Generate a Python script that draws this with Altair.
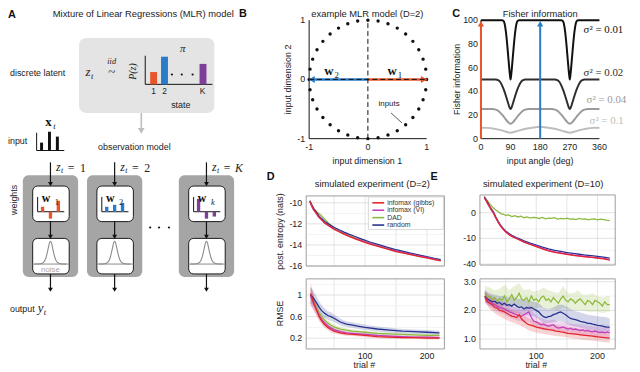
import altair as alt
import pandas as pd

# ============================================================ data
methods = ["infomax (gibbs)", "infomax (VI)", "DAD", "random"]
method_colors = {"infomax (gibbs)": "#e2262b", "infomax (VI)": "#c23fbe",
                 "DAD": "#8dba3e", "random": "#29328f"}
draw_order = ["DAD", "random", "infomax (VI)", "infomax (gibbs)"]

# --- A: schematic bars
latent_states = ["1", "2", "K"]
latent_probs = [0.445, 1.0, 0.74]
input_vals = [0.42, 1.0, 0.74]
w_names = ["1", "2", "k"]
w_vals = {"1": [0.36, -0.5, 0.79], "2": [0.36, 0.5, 0.64], "k": [0.93, -0.5, -0.35]}
noise_dx = [-16, -10, -7, -5, -3.5, -2, -1, 0, 1, 2, 3.5, 5, 7, 10, 16]
noise_pdf = [0, 0.01, 0.07, 0.22, 0.45, 0.75, 0.93, 1.0, 0.93, 0.75, 0.45, 0.22, 0.07, 0.01, 0]

# --- B: stimulus set and weight vectors
input_angles = [0, 10, 20, 30, 40, 50, 60, 70, 80, 90, 100, 110, 120, 130, 140, 150, 160, 170,
                180, 190, 200, 210, 220, 230, 240, 250, 260, 270, 280, 290, 300, 310, 320, 330, 340, 350]
w1_vec = [1, 0]
w2_vec = [-1, 0]
b_ticks = [-1, 0, 1]

# --- C: Fisher information vs input angle
fi_labels = ["σ² = 0.01", "σ² = 0.02", "σ² = 0.04", "σ² = 0.1"]
fi_angles = {
    "σ² = 0.01": [0, 64, 68, 72, 76, 80, 84, 88, 90, 92, 96, 100, 104, 108, 112, 116,
                  244, 248, 252, 256, 260, 264, 268, 270, 272, 276, 280, 284, 288, 292, 296, 360],
    "σ² = 0.02": [0, 45, 52, 58, 64, 70, 76, 82, 86, 90, 94, 98, 104, 110, 116, 122, 128, 135,
                  225, 232, 238, 244, 250, 256, 262, 266, 270, 274, 278, 284, 290, 296, 302, 308, 315, 360],
    "σ² = 0.04": [0, 35, 45, 55, 65, 75, 82, 90, 98, 105, 115, 125, 135, 145,
                  215, 225, 235, 245, 255, 262, 270, 278, 285, 295, 305, 315, 325, 360],
    "σ² = 0.1": [0, 20, 40, 60, 75, 90, 105, 120, 140, 160, 180, 200, 220, 240, 255, 270, 285, 300, 320, 340, 360],
}
fi_values = {
    "σ² = 0.01": [100, 100, 99.5, 97, 90, 79, 66, 54, 50, 54, 66, 79, 90, 97, 99.5, 100,
                  100, 99.5, 97, 90, 79, 66, 54, 50, 54, 66, 79, 90, 97, 99.5, 100, 100],
    "σ² = 0.02": [50, 50, 49.5, 48, 45, 41, 36, 30.5, 27, 25, 27, 30.5, 36, 41, 45, 48, 49.5, 50,
                  50, 49.5, 48, 45, 41, 36, 30.5, 27, 25, 27, 30.5, 36, 41, 45, 48, 49.5, 50, 50],
    "σ² = 0.04": [25, 25, 24.5, 23, 20, 16.5, 14, 12.5, 14, 16.5, 20, 23, 24.5, 25,
                  25, 24.5, 23, 20, 16.5, 14, 12.5, 14, 16.5, 20, 23, 24.5, 25, 25],
    "σ² = 0.1": [9.3, 9.1, 8.4, 7.2, 6.0, 5.0, 6.0, 7.2, 8.5, 9.5, 10, 9.5, 8.5, 7.2, 6.0, 5.0, 6.0, 7.2, 8.4, 9.1, 9.3],
}
stim_angles = [0, 180]
c_xticks = [0, 90, 180, 270, 360]
c_yticks = [0, 20, 40, 60, 80, 100]

# --- D: simulated experiment D=2
d_ent_trials = [11, 14, 17, 21, 25, 30, 35, 42, 50, 58, 66, 74, 84, 95, 108, 122, 135, 148, 162, 175, 188, 201, 212, 222]
d_ent = {
    "infomax (gibbs)": [-9.85, -10.25, -10.6, -10.94, -11.3, -11.6, -11.9, -12.19, -12.5, -12.75, -12.98, -13.19,
                        -13.42, -13.66, -13.92, -14.16, -14.38, -14.6, -14.78, -14.94, -15.1, -15.25, -15.4, -15.52],
    "infomax (VI)": [-9.9, -10.35, -10.7, -11.0, -11.35, -11.65, -11.95, -12.2, -12.5, -12.72, -12.95, -13.15,
                     -13.38, -13.6, -13.86, -14.1, -14.32, -14.55, -14.72, -14.9, -15.05, -15.2, -15.35, -15.48],
    "DAD": [-9.8, -10.2, -10.5, -10.8, -11.0, -11.25, -11.55, -12.0, -12.4, -12.65, -12.88, -13.08,
            -13.3, -13.55, -13.82, -14.05, -14.3, -14.5, -14.7, -14.88, -15.02, -15.18, -15.33, -15.45],
    "random": [-9.8, -10.2, -10.55, -10.85, -11.2, -11.5, -11.78, -12.05, -12.32, -12.56, -12.78, -12.98,
               -13.2, -13.45, -13.72, -13.97, -14.2, -14.42, -14.62, -14.8, -14.97, -15.13, -15.28, -15.4],
}
d_rmse_trials = [12, 15, 18, 22, 26, 30, 35, 40, 45, 50, 60, 70, 80, 90, 100, 120, 140, 160, 180, 200, 220]
d_rmse = {
    "infomax (gibbs)": [1.03, 0.93, 0.83, 0.71, 0.6, 0.52, 0.45, 0.4, 0.36, 0.33, 0.3, 0.28, 0.27, 0.26, 0.25,
                        0.23, 0.22, 0.21, 0.21, 0.2, 0.2],
    "infomax (VI)": [0.98, 0.9, 0.82, 0.72, 0.62, 0.55, 0.48, 0.43, 0.39, 0.36, 0.32, 0.3, 0.29, 0.28, 0.27,
                     0.25, 0.24, 0.23, 0.22, 0.22, 0.21],
    "DAD": [1.0, 0.93, 0.86, 0.76, 0.67, 0.6, 0.53, 0.48, 0.44, 0.41, 0.37, 0.35, 0.33, 0.32, 0.31,
            0.29, 0.28, 0.27, 0.26, 0.25, 0.25],
    "random": [1.0, 0.97, 0.92, 0.85, 0.77, 0.71, 0.66, 0.62, 0.6, 0.57, 0.5, 0.46, 0.44, 0.42, 0.4,
               0.37, 0.35, 0.33, 0.32, 0.31, 0.3],
}
d_rmse_sem = {
    "infomax (gibbs)": [0.2, 0.16, 0.13, 0.1, 0.08, 0.07, 0.06, 0.05, 0.05, 0.04, 0.04, 0.035, 0.03, 0.03, 0.03,
                        0.03, 0.03, 0.025, 0.025, 0.025, 0.025],
    "infomax (VI)": [0.18, 0.15, 0.12, 0.1, 0.08, 0.07, 0.06, 0.05, 0.05, 0.04, 0.04, 0.035, 0.03, 0.03, 0.03,
                     0.03, 0.03, 0.025, 0.025, 0.025, 0.025],
    "DAD": [0.15, 0.13, 0.11, 0.09, 0.08, 0.07, 0.06, 0.05, 0.05, 0.04, 0.04, 0.035, 0.03, 0.03, 0.03,
            0.03, 0.03, 0.025, 0.025, 0.025, 0.025],
    "random": [0.15, 0.14, 0.13, 0.12, 0.11, 0.1, 0.09, 0.08, 0.08, 0.07, 0.06, 0.055, 0.05, 0.05, 0.05,
               0.045, 0.045, 0.04, 0.04, 0.04, 0.04],
}
d_ent_ticks = [-16, -14, -12, -10]
d_rmse_ticks = [0.2, 0.6, 1.0]
trial_ticks = [100, 200]

# --- E: simulated experiment D=10
e_ent_trials = [15, 18, 21, 24, 27, 30, 34, 38, 42, 46, 50, 55, 60, 70, 80, 90, 100, 110, 120, 130, 140, 150,
                160, 170, 180, 190, 200, 210, 220]
e_ent = {
    "infomax (gibbs)": [4.5, 3.5, 2.3, 1.4, 0.6, 0, -1.2, -2.6, -4.0, -5.2, -6.4, -7.7, -8.8, -10.6, -12.6, -14.5,
                        -16.3, -18.5, -20.5, -22.2, -23.5, -24.8, -26, -27, -28, -29, -30, -31.2, -33],
    "infomax (VI)": [4.5, 3.4, 2.2, 1.3, 0.5, -0.1, -1.3, -2.6, -3.9, -5.1, -6.2, -7.5, -8.6, -10.4, -12.4, -14.2,
                     -16.0, -18.1, -20.0, -21.7, -23.0, -24.3, -25.5, -26.5, -27.5, -28.5, -29.4, -30.5, -32.2],
    "random": [5.0, 3.8, 2.6, 1.6, 0.8, 0.2, -1.0, -2.3, -3.6, -4.8, -5.9, -7.1, -8.2, -9.9, -11.7, -13.4,
               -15.0, -16.9, -18.6, -20.1, -21.3, -22.5, -23.6, -24.6, -25.6, -26.5, -27.4, -28.4, -29.8],
}
e_ent_dad_trials = [15, 18, 21, 24, 27, 30, 34, 38, 42, 46, 50, 55, 60, 65, 70, 75, 80, 85, 90, 95, 100, 105,
                    110, 115, 120, 125, 130, 135, 140, 145, 150, 155, 160, 165, 170, 175, 180, 185, 190, 195,
                    200, 205, 210, 215, 220]
e_ent_dad = [4.6, 3.9, 3.1, 2.3, 1.7, 1.1, 0.6, 0.2, -0.2, -0.35, -0.6, -0.5, -0.9, -0.7, -1.0, -0.8, -1.2, -1.0,
             -1.3, -1.1, -1.2, -1.4, -1.1, -1.5, -1.3, -1.4, -1.2, -1.6, -1.4, -1.5, -1.3, -1.6, -1.5, -1.7,
             -1.4, -1.6, -1.5, -1.8, -1.6, -1.5, -1.8, -1.6, -1.7, -1.9, -2.0]
e_rmse_trials = [16, 20, 24, 28, 32, 36, 40, 44, 48, 52, 56, 60, 64, 68, 72, 76, 80, 84, 88, 92, 96, 100, 104,
                 108, 112, 116, 120, 124, 128, 132, 136, 140, 144, 148, 152, 156, 160, 164, 168, 172, 176, 180,
                 184, 188, 192, 196, 200, 204, 208, 212, 216, 220]
e_rmse = {
    "DAD": [2.6, 2.45, 2.5, 2.38, 2.45, 2.3, 2.42, 2.35, 2.5, 2.3, 2.4, 2.55, 2.35, 2.45, 2.6, 2.4, 2.35, 2.45,
            2.3, 2.5, 2.35, 2.4, 2.3, 2.45, 2.5, 2.35, 2.4, 2.3, 2.45, 2.35, 2.25, 2.4, 2.5, 2.35, 2.3, 2.4,
            2.35, 2.25, 2.35, 2.4, 2.3, 2.2, 2.35, 2.3, 2.2, 2.35, 2.3, 2.25, 2.15, 2.3, 2.2, 2.2],
    "random": [2.5, 2.4, 2.35, 2.3, 2.32, 2.25, 2.28, 2.2, 2.25, 2.18, 2.2, 2.15, 2.22, 2.15, 2.1, 2.12, 2.05,
               2.1, 2.08, 2.1, 2.05, 2.0, 1.95, 1.85, 1.78, 1.75, 1.78, 1.8, 1.85, 1.88, 1.92, 1.95, 1.9, 1.85,
               1.78, 1.72, 1.7, 1.68, 1.65, 1.62, 1.6, 1.58, 1.55, 1.55, 1.52, 1.5, 1.48, 1.47, 1.45, 1.43,
               1.42, 1.42],
    "infomax (VI)": [2.45, 2.35, 2.3, 2.25, 2.2, 2.15, 2.1, 2.08, 2.05, 2.0, 1.95, 1.92, 1.88, 1.85, 1.82, 1.8,
                     1.85, 1.9, 1.95, 1.75, 1.62, 1.6, 1.55, 1.5, 1.52, 1.48, 1.45, 1.48, 1.5, 1.42, 1.38, 1.4,
                     1.42, 1.38, 1.35, 1.38, 1.33, 1.35, 1.32, 1.3, 1.32, 1.28, 1.3, 1.27, 1.25, 1.28, 1.25,
                     1.23, 1.24, 1.22, 1.25, 1.22],
    "infomax (gibbs)": [2.5, 2.3, 2.25, 2.2, 2.1, 2.08, 2.0, 1.98, 1.95, 1.9, 1.85, 1.8, 1.78, 1.75, 1.85, 1.7,
                        1.62, 1.55, 1.5, 1.48, 1.45, 1.42, 1.4, 1.38, 1.36, 1.35, 1.33, 1.32, 1.3, 1.28, 1.27,
                        1.25, 1.24, 1.22, 1.2, 1.19, 1.18, 1.17, 1.16, 1.15, 1.14, 1.13, 1.12, 1.11, 1.1, 1.09,
                        1.08, 1.07, 1.06, 1.05, 1.04, 1.03],
}
e_band_trials = [16, 24, 32, 40, 48, 56, 64, 72, 80, 88, 96, 104, 112, 120, 128, 136, 144, 152, 160, 168, 176,
                 184, 192, 200, 208, 216, 220]
e_band_lo = {
    "DAD": [2.35, 2.2, 2.15, 2.1, 2.15, 2.1, 2.2, 2.15, 2.05, 2.1, 2.05, 2.1, 2.1, 2.05, 2.05, 2.0, 2.1, 2.05,
            2.0, 2.0, 2.0, 1.95, 1.95, 1.95, 1.9, 1.95, 1.95],
    "random": [2.3, 2.15, 2.1, 2.0, 1.98, 1.95, 1.92, 1.9, 1.85, 1.82, 1.8, 1.7, 1.55, 1.55, 1.58, 1.62, 1.6,
               1.52, 1.45, 1.42, 1.38, 1.33, 1.3, 1.28, 1.25, 1.22, 1.22],
    "infomax (VI)": [2.25, 2.1, 2.0, 1.92, 1.85, 1.75, 1.68, 1.62, 1.6, 1.6, 1.45, 1.35, 1.32, 1.3, 1.3, 1.25,
                     1.25, 1.2, 1.18, 1.15, 1.14, 1.12, 1.1, 1.08, 1.08, 1.06, 1.05],
    "infomax (gibbs)": [2.3, 2.05, 1.9, 1.8, 1.7, 1.62, 1.55, 1.5, 1.4, 1.3, 1.25, 1.2, 1.18, 1.15, 1.12, 1.1,
                        1.08, 1.05, 1.02, 1.0, 0.98, 0.96, 0.94, 0.92, 0.9, 0.88, 0.88],
}
e_band_hi = {
    "DAD": [2.85, 2.8, 2.7, 2.75, 2.9, 2.7, 2.85, 2.95, 2.7, 2.75, 2.65, 2.7, 2.8, 2.7, 2.65, 2.6, 2.85, 2.6,
            2.6, 2.7, 2.55, 2.55, 2.6, 2.5, 2.45, 2.5, 2.5],
    "random": [2.7, 2.6, 2.55, 2.5, 2.5, 2.45, 2.45, 2.4, 2.35, 2.35, 2.3, 2.25, 2.1, 2.05, 2.1, 2.2, 2.2, 2.1,
               2.0, 1.95, 1.9, 1.85, 1.82, 1.8, 1.78, 1.75, 1.72],
    "infomax (VI)": [2.65, 2.55, 2.45, 2.35, 2.3, 2.2, 2.12, 2.05, 2.05, 2.2, 1.9, 1.75, 1.7, 1.65, 1.68, 1.6,
                     1.6, 1.55, 1.52, 1.5, 1.48, 1.46, 1.45, 1.42, 1.4, 1.4, 1.4],
    "infomax (gibbs)": [2.7, 2.45, 2.3, 2.2, 2.1, 2.05, 1.98, 1.95, 1.85, 1.72, 1.65, 1.6, 1.55, 1.52, 1.5,
                        1.48, 1.45, 1.42, 1.4, 1.37, 1.35, 1.33, 1.3, 1.28, 1.26, 1.24, 1.22],
}
e_ent_ticks = [0, -10, -40]
e_rmse_ticks = [1.0, 2.0, 3.0]

# ============================================================ layout / style
M = 8                 # page margin
W, H = 632, 364       # drawing area (page px 8..640, 8..372)
SANS = "Liberation Sans"
SERIF = "Liberation Serif"
INK = "#222222"
ORANGE = "#e8552a"
BLUE = "#2a7bc8"
PURPLE = "#7d3f98"
A_COLS = [51, 116, 209]
TRIAL_GRID = [50, 100, 150, 200]

PX = alt.Scale(domain=[0, 640], range=[-M, 640 - M], zero=False, nice=False)
PY = alt.Scale(domain=[0, 372], range=[-M, 372 - M], zero=False, nice=False)


def pscale(dom, a, b):
    return alt.Scale(domain=dom, range=[a - M, b - M], zero=False, nice=False)


def fmt(v):
    s = f"{v:g}" if float(v).is_integer() else f"{v:.1f}"
    return s


def xy(chart, xs, ys, x="x", y="y", x2=None, y2=None, **extra):
    enc = dict(x=alt.X(f"{x}:Q", scale=xs, axis=None), y=alt.Y(f"{y}:Q", scale=ys, axis=None))
    if x2:
        enc["x2"] = alt.X2(f"{x2}:Q")
    if y2:
        enc["y2"] = alt.Y2(f"{y2}:Q")
    enc.update(extra)
    return chart.encode(**enc)


def ylabels(xs, ys, xval, values, labels=None, dx=-4, size=9):
    labels = labels or [fmt(v) for v in values]
    df = pd.DataFrame({"x": xval, "y": values, "t": labels})
    return xy(alt.Chart(df).mark_text(font=SANS, fontSize=size, color=INK, align="right", baseline="middle",
                                      dx=dx), xs, ys, text="t:N")


def xlabels(xs, ys, yval, values, labels=None, dy=4, size=9):
    labels = labels or [fmt(v) for v in values]
    df = pd.DataFrame({"x": values, "y": yval, "t": labels})
    return xy(alt.Chart(df).mark_text(font=SANS, fontSize=size, color=INK, align="center", baseline="top",
                                      dy=dy), xs, ys, text="t:N")


def prects(rows, **mark):
    df = pd.DataFrame(rows, columns=["x", "x2", "y", "y2"])
    return xy(alt.Chart(df).mark_rect(**mark), PX, PY, x2="x2", y2="y2")


def prules(rows, **mark):
    df = pd.DataFrame(rows, columns=["x", "x2", "y", "y2"])
    return xy(alt.Chart(df).mark_rule(**mark), PX, PY, x2="x2", y2="y2")


def ppoints(rows, **mark):
    df = pd.DataFrame(rows, columns=["x", "y"])
    return xy(alt.Chart(df).mark_point(**mark), PX, PY)


def texts(rows, font=SANS, align="center", style="normal", weight="normal", baseline="middle"):
    df = pd.DataFrame(rows, columns=["text", "x", "y", "size", "color", "angle"])
    return alt.Chart(df).mark_text(font=font, align=align, baseline=baseline, fontStyle=style,
                                   fontWeight=weight).encode(
        x=alt.X("x:Q", scale=PX, axis=None), y=alt.Y("y:Q", scale=PY, axis=None),
        text=alt.Text("text:N"), size=alt.Size("size:Q", scale=None),
        color=alt.Color("color:N", scale=None), angle=alt.Angle("angle:Q", scale=None))


layers = []

# ============================================================ panel A
layers.append(prects([(80, 217, 36, 112)], fill="#e4e4e4", cornerRadius=7))
layers.append(prects([(c - 28, c + 28, 175, 278) for c in A_COLS], fill="#a5a5a5", cornerRadius=6))
layers.append(prects([(c - 18, c + 19, 186, 222) for c in A_COLS] + [(c - 18, c + 19, 239, 275) for c in A_COLS],
                     fill="white", stroke="#1a1a1a", strokeWidth=1, cornerRadius=5))
arrow_rows = []
head_rows = []
for c in A_COLS:
    arrow_rows += [(c, c, 162, 183), (c, c, 222, 236), (c, c, 275, 290)]
    head_rows += [(c, 184), (c, 237.5), (c, 291)]
layers.append(prules(arrow_rows, color="#111", strokeWidth=1.2))
layers.append(ppoints(head_rows, shape="triangle-down", filled=True, size=24, color="#111", opacity=1))
layers.append(prules([(143, 143, 112, 127)], color="#bdbdbd", strokeWidth=1.6))
layers.append(ppoints([(143, 130)], shape="triangle-down", filled=True, size=45, color="#bdbdbd", opacity=1))
mini_axes = [(147, 147, 54, 83), (147, 215, 83, 83), (37, 37, 132, 150), (37, 65, 150, 150)]
for c in A_COLS:
    mini_axes += [(c - 13, c - 13, 197, 212), (c - 13, c + 14, 212, 212)]
layers.append(prules(mini_axes, color="#111", strokeWidth=1))
layers.append(prules([(c - 18, c + 19, 265, 265) for c in A_COLS], color="#8a8a8a", strokeWidth=1))
lat_df = pd.DataFrame({"state": latent_states, "p": latent_probs, "base": 0,
                       "x": [152, 163, 202], "x2": [159, 170, 209], "col": [ORANGE, BLUE, PURPLE]})
layers.append(alt.Chart(lat_df).mark_rect().encode(
    x=alt.X("x:Q", scale=PX, axis=None), x2="x2:Q",
    y=alt.Y("p:Q", scale=pscale([0, 1], 83, 55), axis=None), y2="base:Q",
    color=alt.Color("col:N", scale=None)))
in_df = pd.DataFrame({"v": input_vals, "base": 0, "x": [40.5, 48.5, 56.5], "x2": [43.5, 51.5, 59.5]})
layers.append(alt.Chart(in_df).mark_rect(color="#111").encode(
    x=alt.X("x:Q", scale=PX, axis=None), x2="x2:Q",
    y=alt.Y("v:Q", scale=pscale([0, 1], 150, 131), axis=None), y2="base:Q"))
w_rows = []
for c, name, col in zip(A_COLS, w_names, [ORANGE, BLUE, PURPLE]):
    for off, v in zip([-8, 0, 8], w_vals[name]):
        w_rows.append({"w": v, "base": 0, "x": c + off - 1.7, "x2": c + off + 1.7, "col": col})
layers.append(alt.Chart(pd.DataFrame(w_rows)).mark_rect().encode(
    x=alt.X("x:Q", scale=PX, axis=None), x2="x2:Q",
    y=alt.Y("w:Q", scale=pscale([-1, 1], 226, 198), axis=None), y2="base:Q",
    color=alt.Color("col:N", scale=None)))
n_rows = []
for i, c in enumerate(A_COLS):
    for dx, d in zip(noise_dx, noise_pdf):
        n_rows.append({"x": c + dx, "d": d, "k": i})
layers.append(alt.Chart(pd.DataFrame(n_rows)).mark_line(color="#8a8a8a", strokeWidth=1.1,
                                                         interpolate="monotone").encode(
    x=alt.X("x:Q", scale=PX, axis=None), y=alt.Y("d:Q", scale=pscale([0, 1], 265, 242), axis=None),
    detail="k:N"))
layers.append(xy(alt.Chart(pd.DataFrame({"x": [174, 184, 195, 152, 161, 171], "y": [73, 73, 73, 228, 228, 228]}))
                 .mark_circle(size=5, color="#111", opacity=1), PX, PY))

# ============================================================ panel B
bx = pscale([-1, 1], 313, 432)
by = pscale([-1, 1], 138, 18)
layers.append(xy(alt.Chart(pd.DataFrame({"x": [-1, -1], "x2": [-1, 1], "y": [-1, -1], "y2": [1, -1]}))
                 .mark_rule(color="#111", strokeWidth=1), bx, by, x2="x2", y2="y2"))
layers.append(alt.Chart(pd.DataFrame({"angle": input_angles})).transform_calculate(
    u="cos(datum.angle * PI / 180)", v="sin(datum.angle * PI / 180)"
).mark_circle(size=12, color="#111", opacity=1).encode(
    x=alt.X("u:Q", scale=bx, axis=None), y=alt.Y("v:Q", scale=by, axis=None)))
layers.append(xy(alt.Chart(pd.DataFrame({"x": [0, 0], "x2": [w1_vec[0], w2_vec[0]], "y": [0, 0],
                                         "y2": [w1_vec[1], w2_vec[1]], "col": [ORANGE, BLUE]}))
                 .mark_rule(strokeWidth=2.6), bx, by, x2="x2", y2="y2", color=alt.Color("col:N", scale=None)))
layers.append(xy(alt.Chart(pd.DataFrame({"x": [0.955], "y": [0]})).mark_point(
    shape="triangle-right", filled=True, size=50, color=ORANGE, opacity=1), bx, by))
layers.append(xy(alt.Chart(pd.DataFrame({"x": [-0.955], "y": [0]})).mark_point(
    shape="triangle-left", filled=True, size=50, color=BLUE, opacity=1), bx, by))
layers.append(xy(alt.Chart(pd.DataFrame({"x": [0, -1], "x2": [0, 1], "y": [-1, 0], "y2": [1, 0]}))
                 .mark_rule(color="#111", strokeWidth=1, strokeDash=[5, 3]), bx, by, x2="x2", y2="y2"))
layers.append(ylabels(bx, by, -1, b_ticks, dx=-4))
layers.append(xlabels(bx, by, -1, b_ticks, dy=4))
layers.append(prules([(396, 407, 112, 122)], color="#333", strokeWidth=0.8))

# ============================================================ panel C
cxs = pscale([0, 360], 487, 607)
cys = pscale([0, 100], 138, 18)
fi_colors = {"σ² = 0.01": "#111111", "σ² = 0.02": "#2e2e2e", "σ² = 0.04": "#9a9a9a", "σ² = 0.1": "#bdbdbd"}
for lab in reversed(fi_labels):
    df = pd.DataFrame({"x": fi_angles[lab], "y": fi_values[lab]})
    layers.append(xy(alt.Chart(df).mark_line(color=fi_colors[lab], strokeWidth=2, interpolate="monotone"),
                     cxs, cys))
layers.append(xy(alt.Chart(pd.DataFrame({"x": [0, 0], "x2": [0, 360], "y": [0, 0], "y2": [100, 0]}))
                 .mark_rule(color="#111", strokeWidth=1), cxs, cys, x2="x2", y2="y2"))
stim_df = pd.DataFrame({"x": stim_angles, "y": [0, 0], "y2": [95, 95], "top": [97, 97], "col": [ORANGE, BLUE]})
layers.append(alt.Chart(stim_df).mark_rule(strokeWidth=2).encode(
    x=alt.X("x:Q", scale=cxs, axis=None), y=alt.Y("y:Q", scale=cys, axis=None), y2="y2:Q",
    color=alt.Color("col:N", scale=None)))
layers.append(alt.Chart(stim_df).mark_point(shape="triangle-up", filled=True, size=40, opacity=1).encode(
    x=alt.X("x:Q", scale=cxs, axis=None), y=alt.Y("top:Q", scale=cys, axis=None),
    color=alt.Color("col:N", scale=None)))
layers.append(ylabels(cxs, cys, 0, c_yticks, dx=-3))
layers.append(xlabels(cxs, cys, 0, c_xticks, dy=4))


# ============================================================ panels D & E
def sim_subplot(xs, xdom, ys, ydom, major, minor, yvals, lines, bands=None, ylabs=None, xticks=None):
    sub = []
    sub.append(alt.Chart(pd.DataFrame({"x": TRIAL_GRID, "y": ydom[0], "y2": ydom[1]})).mark_rule(
        color="#dedede", strokeWidth=0.8).encode(
        x=alt.X("x:Q", scale=xs, axis=None), y=alt.Y("y:Q", scale=ys, axis=None), y2="y2:Q"))
    for vals, colr in ((minor, "#eeeeee"), (major, "#dadada")):
        sub.append(alt.Chart(pd.DataFrame({"y": vals, "x": xdom[0], "x2": xdom[1]})).mark_rule(
            color=colr, strokeWidth=0.8).encode(
            x=alt.X("x:Q", scale=xs, axis=None), x2="x2:Q", y=alt.Y("y:Q", scale=ys, axis=None)))
    if bands is not None:
        for m in draw_order:
            if m in bands:
                sub.append(bands[m])
    for m in draw_order:
        if m in lines:
            t, v = lines[m]
            sub.append(alt.Chart(pd.DataFrame({"trial": t, "value": v})).mark_line(
                color=method_colors[m], strokeWidth=1.3).encode(
                x=alt.X("trial:Q", scale=xs, axis=None), y=alt.Y("value:Q", scale=ys, axis=None)))
    frame = pd.DataFrame({"x": [xdom[0]], "x2": [xdom[1]], "y": [ydom[0]], "y2": [ydom[1]]})
    sub.append(xy(alt.Chart(frame).mark_rect(fillOpacity=0, stroke="#9c9c9c", strokeWidth=1),
                  xs, ys, x2="x2", y2="y2"))
    sub.append(ylabels(xs, ys, xdom[0], yvals, labels=ylabs, dx=-4))
    if xticks:
        sub.append(xlabels(xs, ys, ydom[0], xticks, dy=3))
    return alt.layer(*sub)


dx_dom = [5, 228]
dxs = pscale(dx_dom, 310, 450)
ex_dom = [8, 229]
exs = pscale(ex_dom, 486, 623)

d1_dom = [-16, -9.35]
d1ys = pscale(d1_dom, 267, 196)
layers.append(sim_subplot(dxs, dx_dom, d1ys, d1_dom, d_ent_ticks, [-15, -13, -11], d_ent_ticks,
                          {m: (d_ent_trials, d_ent[m]) for m in methods}))
d2_dom = [0, 1.3]
d2ys = pscale(d2_dom, 351, 280)
d_bands = {}
for m in methods:
    df = pd.DataFrame({"trial": d_rmse_trials, "value": d_rmse[m], "sem": d_rmse_sem[m]})
    d_bands[m] = alt.Chart(df).transform_calculate(
        lo="datum.value - datum.sem", hi="datum.value + datum.sem"
    ).mark_area(color=method_colors[m], opacity=0.2).encode(
        x=alt.X("trial:Q", scale=dxs, axis=None), y=alt.Y("lo:Q", scale=d2ys, axis=None), y2="hi:Q")
layers.append(sim_subplot(dxs, dx_dom, d2ys, d2_dom, d_rmse_ticks, [0.4, 0.8, 1.2], d_rmse_ticks,
                          {m: (d_rmse_trials, d_rmse[m]) for m in methods}, bands=d_bands,
                          xticks=trial_ticks))
e1_dom = [-42, 5.7]
e1ys = alt.Scale(type="symlog", constant=5, domain=e1_dom, range=[266 - M, 195 - M], nice=False)
e_lines = {m: (e_ent_trials, e_ent[m]) for m in e_ent}
e_lines["DAD"] = (e_ent_dad_trials, e_ent_dad)
layers.append(sim_subplot(exs, ex_dom, e1ys, e1_dom, e_ent_ticks, [-5, -20], e_ent_ticks, e_lines))
e2_dom = [0.655, 3.1]
e2ys = pscale(e2_dom, 351, 280)
e_bands = {}
for m in methods:
    df = pd.DataFrame({"trial": e_band_trials, "lo": e_band_lo[m], "hi": e_band_hi[m]})
    e_bands[m] = alt.Chart(df).mark_area(color=method_colors[m], opacity=0.2).encode(
        x=alt.X("trial:Q", scale=exs, axis=None), y=alt.Y("lo:Q", scale=e2ys, axis=None), y2="hi:Q")
layers.append(sim_subplot(exs, ex_dom, e2ys, e2_dom, e_rmse_ticks, [1.5, 2.5], e_rmse_ticks,
                          {m: (e_rmse_trials, e_rmse[m]) for m in methods}, bands=e_bands,
                          ylabs=["1.0", "2.0", "3.0"], xticks=trial_ticks))

# legend of panel D
layers.append(prects([(373, 449, 197, 230)], fill="white", stroke="#cfcfcf", strokeWidth=0.8))
leg_y = [203, 210.5, 218, 225.5]
leg_df = pd.DataFrame({"x": 377, "x2": 389, "y": leg_y, "col": [method_colors[m] for m in methods]})
layers.append(xy(alt.Chart(leg_df).mark_rule(strokeWidth=1.6), PX, PY, x2="x2",
                 color=alt.Color("col:N", scale=None)))
layers.append(texts([(m, 392, yy, 7, "#333", 0) for m, yy in zip(methods, leg_y)], align="left"))

# ============================================================ texts
layers.append(texts([
    ("Mixture of Linear Regressions (MLR) model", 145, 12, 9.5, INK, 0),
    ("observation model", 136, 146, 9, INK, 0),
    ("state", 183, 104, 9, INK, 0),
    ("1", 155.5, 90, 8.5, INK, 0), ("2", 166.5, 90, 8.5, INK, 0), ("K", 205, 90, 8.5, INK, 0),
    ("noise", 51, 271, 8, "#a8a8a8", 0),
    ("weights", 14, 200, 9, INK, 270),
    ("example MLR model (D=2)", 372, 12, 9.5, INK, 0),
    ("Fisher information", 547, 12, 9.5, INK, 0),
    ("input dimension 2", 292, 78, 9, INK, 270),
    ("input dimension 1", 372, 161, 9, INK, 0),
    ("Fisher information", 463, 78, 9, INK, 270),
    ("input angle (deg)", 547, 161, 9, INK, 0),
    ("simulated experiment (D=2)", 377, 184, 9.5, INK, 0),
    ("simulated experiment (D=10)", 550, 184, 9.5, INK, 0),
    ("post. entropy (nats)", 284, 232, 9, INK, 270),
    ("RMSE", 284, 315, 9, INK, 270),
    ("trial #", 369, 367, 9, INK, 0),
    ("trial #", 543, 367, 9, INK, 0),
    ("inputs", 394, 103, 8, INK, 0),
]))
layers.append(texts([
    ("discrete latent", 10, 72, 9, INK, 0),
    ("input", 8, 140, 9, INK, 0),
    ("output", 10, 311, 9, INK, 0),
], align="left"))
layers.append(texts([
    ("A", 8, 13, 11, "#111", 0), ("B", 242, 12, 11, "#111", 0), ("C", 458, 12, 11, "#111", 0),
    ("D", 270, 177, 11, "#111", 0), ("E", 436, 177, 11, "#111", 0),
], align="left", weight="bold"))
ital = [("z", 89, 71, 13, INK, 0), ("t", 93.2, 75, 8.5, INK, 0),
        ("iid", 113, 59, 8.5, INK, 0), ("P(z)", 135, 70, 10, INK, 270), ("π", 185, 47, 11, INK, 0),
        ("y", 41, 310, 13, INK, 0), ("t", 45.5, 314, 8.5, INK, 0), ("t", 55, 125, 8.5, INK, 0),
        ("K", 209 + 33, 168, 12, INK, 0), ("k", 209 + 6.5, 202, 8.5, INK, 0)]
for c in A_COLS:
    ital += [("z", c + 8, 167, 12, INK, 0), ("t", c + 11.8, 171, 8, INK, 0)]
layers.append(texts(ital, font=SERIF, style="italic"))
roman = [("~", 113, 71, 13, INK, 0), ("1", 51 + 33, 168, 12, INK, 0), ("2", 116 + 33, 168, 12, INK, 0),
         ("1", 51 + 6.5, 202, 8.5, INK, 0), ("2", 116 + 6.5, 202, 8.5, INK, 0),
         ("1", 405, 73.5, 9, INK, 0), ("2", 341, 73.5, 9, INK, 0)]
for c in A_COLS:
    roman.append(("=", c + 21, 168, 12, INK, 0))
layers.append(texts(roman, font=SERIF))
layers.append(texts([("x", 49, 121, 13, "#111", 0), ("w", 397, 70, 13, "#111", 0), ("w", 333, 70, 13, "#111", 0)]
                    + [("w", c - 4.5, 198, 12, "#111", 0) for c in A_COLS], font=SERIF, weight="bold"))
layers.append(texts([
    ("σ² = 0.01", 591, 28, 11, "#111111", 0),
    ("σ² = 0.02", 591, 72, 11, "#2e2e2e", 0),
    ("σ² = 0.04", 594, 99, 11, "#9a9a9a", 0),
    ("σ² = 0.1", 597, 120, 11, "#bdbdbd", 0),
], font=SERIF, align="left"))

chart = alt.layer(*layers).resolve_scale(x="independent", y="independent").properties(
    width=W, height=H, autosize=alt.AutoSizeParams(type="none"), padding=0
).configure_view(stroke="transparent")

chart.save("out.html", embed_options={"renderer": "svg", "actions": False})
